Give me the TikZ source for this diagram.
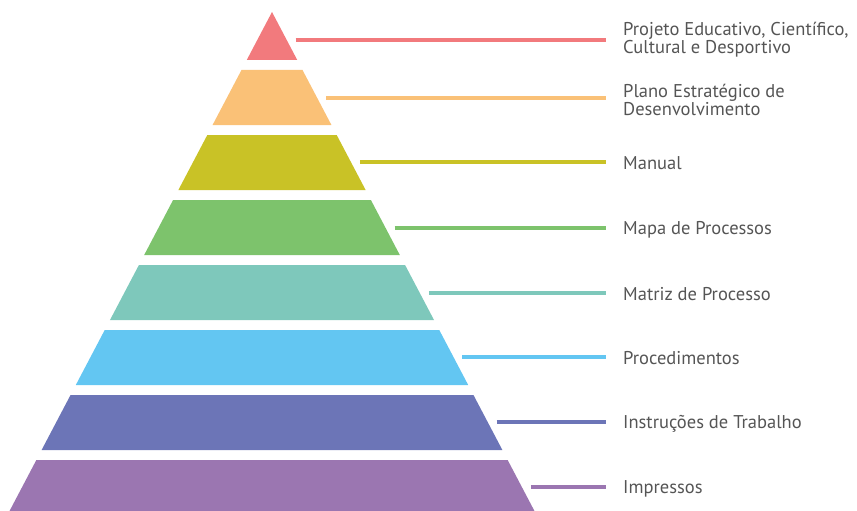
\documentclass[tikz,border=0pt]{standalone}
\usepackage{fontspec}
\setmainfont{PT Sans}
\definecolor{cA}{HTML}{F27A7D}
\definecolor{cB}{HTML}{FAC177}
\definecolor{cC}{HTML}{C9C226}
\definecolor{cD}{HTML}{7DC36C}
\definecolor{cE}{HTML}{7EC8BB}
\definecolor{cF}{HTML}{63C6F2}
\definecolor{cG}{HTML}{6C75B7}
\definecolor{cH}{HTML}{9B76B1}
\definecolor{txt}{HTML}{555555}
\tikzset{
  lbl/.style={anchor=west, inner sep=0pt, text=txt, font=\fontsize{18.5}{18}\selectfont, align=left},
  conn/.style={line width=3.5pt}
}
\newcommand{\hw}[1]{(#1-12)*0.526}
\begin{document}
\begin{tikzpicture}[x=1pt,y=-1pt]
\useasboundingbox (0,0) rectangle (857,511);
% layers
\fill[cA] (272,12) -- ({272+\hw{60}},60) -- ({272-\hw{60}},60) -- cycle;
\foreach \t/\b/\c in {70/125/cB,135/190/cC,200/255/cD,265/320/cE,330/385/cF,395/450/cG,460/511/cH}{
  \fill[\c] ({272-\hw{\t}},\t) -- ({272+\hw{\t}},\t) -- ({272+\hw{\b}},\b) -- ({272-\hw{\b}},\b) -- cycle;
}
% labels
\node[lbl] (l1) at (623,40) {Projeto Educativo, Científico,\\Cultural e Desportivo};
\node[lbl] (l2) at (623,100) {Plano Estratégico de\\Desenvolvimento};
\node[lbl] (l3) at (623,163.5) {Manual};
\node[lbl] (l4) at (623,229.5) {Mapa de Processos};
\node[lbl] (l5) at (623,294.5) {Matriz de Processo};
\node[lbl] (l6) at (623,358.5) {Procedimentos};
\node[lbl] (l7) at (623,423.5) {Instruções de Trabalho};
\node[lbl] (l8) at (623,488.5) {Impressos};
% connector start points
\foreach \i/\y/\c in {1/40/cA,2/98/cB,3/162/cC,4/228/cD,5/293/cE,6/357/cF,7/422/cG,8/487/cH}{
  \coordinate (s\i) at ({272+\hw{\y}+9},\y);
  \coordinate (e\i) at (606,\y);
  \draw[conn,\c] (s\i) -- (e\i);
}
\end{tikzpicture}
\end{document}
